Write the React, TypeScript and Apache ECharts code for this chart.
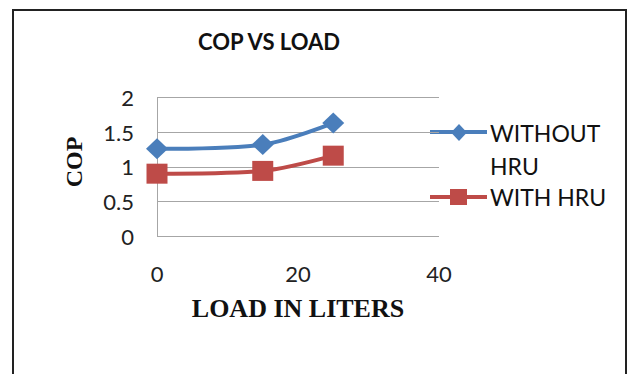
import React, { useEffect, useRef } from "react";
import * as echarts from "echarts";

const loadLiters = [0, 15, 25];
const copWithoutHru = [1.26, 1.32, 1.63];
const copWithHru = [0.9, 0.94, 1.16];
const seriesNames = ["WITHOUT HRU", "WITH HRU"];
const xTicks = { min: 0, max: 40, interval: 20 };
const yTicks = { min: 0, max: 2, interval: 0.5 };

const BLUE = "#4A7EBB";
const RED = "#BE4B48";
const GRID = "#A6A6A6";

export default function App() {
  const ref = useRef<HTMLDivElement>(null);
  useEffect(() => {
    if (!ref.current) return;
    const chart = echarts.init(ref.current, null, { renderer: "svg" });
    const pairs = (ys: number[]) => loadLiters.map((x, i) => [x, ys[i]]);
    chart.setOption({
      animation: false,
      backgroundColor: "#fff",
      grid: { left: 157, top: 97.5, width: 282, height: 138.5, containLabel: false },
      xAxis: {
        type: "value",
        min: xTicks.min,
        max: xTicks.max,
        interval: xTicks.interval,
        axisLine: { show: false },
        axisTick: { show: false },
        splitLine: { show: false },
        axisLabel: { margin: 26, fontFamily: "Lato", fontSize: 22, color: "#222" },
      },
      yAxis: {
        type: "value",
        min: yTicks.min,
        max: yTicks.max,
        interval: yTicks.interval,
        axisLine: { show: true, lineStyle: { color: GRID, width: 1 } },
        axisTick: { show: false },
        splitLine: { show: true, lineStyle: { color: GRID, width: 1 } },
        axisLabel: { margin: 23, fontFamily: "Lato", fontSize: 22, color: "#222" },
      },
      series: [
        {
          name: seriesNames[0],
          type: "line",
          data: pairs(copWithoutHru),
          smooth: 0.3,
          symbol: "diamond",
          symbolSize: [22, 21],
          lineStyle: { color: BLUE, width: 4 },
          itemStyle: { color: BLUE },
        },
        {
          name: seriesNames[1],
          type: "line",
          data: pairs(copWithHru),
          smooth: 0.3,
          symbol: "rect",
          symbolSize: [21, 20],
          lineStyle: { color: RED, width: 4 },
          itemStyle: { color: RED },
        },
      ],
      graphic: [
        {
          type: "rect",
          shape: { x: 13, y: 10, width: 613, height: 420 },
          style: { fill: "none", stroke: "#222", lineWidth: 2 },
          z: 0,
        },
        {
          type: "text",
          x: 269,
          y: 41,
          style: {
            text: "COP VS LOAD",
            font: "bold 22px Lato",
            fill: "#111",
            textAlign: "center",
            textVerticalAlign: "middle",
          },
        },
        {
          type: "text",
          x: 74,
          y: 162,
          rotation: Math.PI / 2,
          style: {
            text: "COP",
            font: "bold 24px 'Liberation Serif'",
            fill: "#111",
            textAlign: "center",
            textVerticalAlign: "middle",
          },
        },
        {
          type: "text",
          x: 298,
          y: 308,
          style: {
            text: "LOAD IN LITERS",
            font: "bold 26px 'Liberation Serif'",
            fill: "#111",
            textAlign: "center",
            textVerticalAlign: "middle",
          },
        },
        // legend
        {
          type: "line",
          shape: { x1: 430, y1: 132, x2: 487, y2: 132 },
          style: { stroke: BLUE, lineWidth: 4 },
        },
        {
          type: "polygon",
          shape: { points: [[459, 124], [467, 132.5], [459, 141], [451, 132.5]] },
          style: { fill: BLUE },
        },
        {
          type: "text",
          x: 490,
          y: 133,
          style: { text: "WITHOUT", font: "23px Lato", fill: "#111", textVerticalAlign: "middle" },
        },
        {
          type: "text",
          x: 490,
          y: 166,
          style: { text: "HRU", font: "23px Lato", fill: "#111", textVerticalAlign: "middle" },
        },
        {
          type: "line",
          shape: { x1: 430, y1: 197, x2: 487, y2: 197 },
          style: { stroke: RED, lineWidth: 4 },
        },
        {
          type: "rect",
          shape: { x: 450, y: 189, width: 17, height: 16 },
          style: { fill: RED },
        },
        {
          type: "text",
          x: 490,
          y: 197,
          style: { text: "WITH HRU", font: "23px Lato", fill: "#111", textVerticalAlign: "middle" },
        },
      ],
    });
    return () => chart.dispose();
  }, []);
  return (
    <div
      ref={ref}
      style={{ position: "absolute", left: 0, top: 0, width: 629, height: 374 }}
    />
  );
}
